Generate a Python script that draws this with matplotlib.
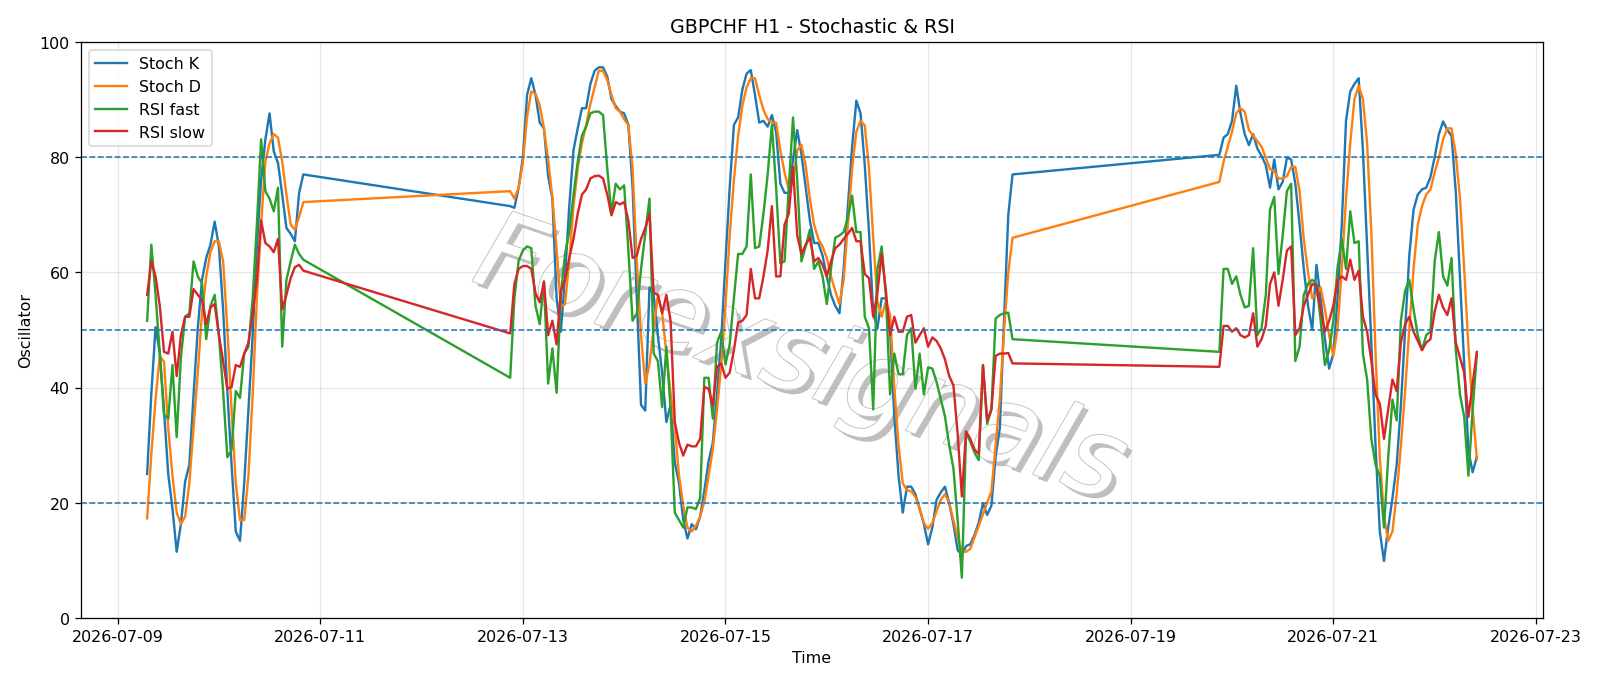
import numpy as np
import pandas as pd
import matplotlib
matplotlib.use("Agg")
import matplotlib.pyplot as plt
import matplotlib.dates as mdates
import matplotlib.patheffects as pe

# hourly bars, market closed over the weekends
seg1 = pd.date_range("2026-07-09 07:00", "2026-07-10 20:00", freq="h")
seg2 = pd.date_range("2026-07-12 21:00", "2026-07-17 20:00", freq="h")
seg3 = pd.date_range("2026-07-19 21:00", "2026-07-22 10:00", freq="h")
times = seg1.append(seg2).append(seg3)

stoch_k = [
    25.0, 39, 50.5, 46, 36, 25, 19, 11.5, 16.3, 23.7, 26.6, 38.8, 50.3, 58.7, 62.5, 64.8, 68.8, 64.5, 53.5,
    39.4, 26.6, 15.0, 13.4, 23.4, 36.2, 49, 64.5, 76, 83, 87.6, 81, 79, 73.5, 67.7, 66.7, 65.4, 73.8, 77,
    # week 2
    71.5, 71.2, 74.7, 79.9, 90.8, 93.7, 90.8, 86, 85, 76.7, 72.8, 55.5, 49.7, 59.3, 71.5, 81.2, 85, 88.5,
    88.5, 92.7, 95, 95.6, 95.6, 94, 90.1, 88.9, 87.9, 87.6, 85.6, 74.7, 55.5, 37, 36, 57.4, 56, 49, 42.6,
    34, 37, 27,
    23.4, 17, 13.8, 16.3, 15.4, 17.6, 22.1, 27.2, 30.4, 38.8, 48.4, 61.9, 74.7, 85.6, 86.9, 91.7, 94.5,
    95.1, 90.8, 86, 86.3, 85.3, 87.3, 84.4, 75.4, 73.8, 73.8, 79.6, 84.7, 80.5, 74.7, 69, 65.1, 65.1, 62.9,
    59.3, 56.1, 54.2, 52.9,
    60.6, 71.5, 81.8, 89.8, 87.6, 78.6, 67, 52.9, 50.3, 55.5, 55.5, 49.7, 35, 24.7, 18.3, 22.8, 22.8, 21.5,
    18.9, 16.3, 12.8, 15.7, 20.5, 21.8, 22.8, 19.9, 16.3, 11.8, 10.9, 12.5, 12.8, 14.4, 16.6, 19.9, 17.9,
    19.5, 28, 33, 52, 70, 77,
    # week 3
    80.4, 83.4, 84, 86.3, 92.4, 87.6, 84, 82.1, 84, 81.5, 80.2, 78.6, 74.7, 79.6, 74.4, 75.7, 79.9, 79.6,
    75.4, 68.3, 60.6, 54.2, 50, 61.3, 55.5, 48.4, 43.3, 45.9, 55.5, 68.3, 86.3, 91.4,
    92.7, 93.7, 81.2, 64.5, 47.8, 29.8, 15, 9.9, 15.7, 20.8, 26.6, 36.9, 50, 63, 70.9, 73.5, 74.4, 74.7,
    76.5, 80, 84, 86.2, 84.7, 83.7, 74, 59, 44, 29, 25.3, 28,
]

stoch_d = [
    17.3, 28.5, 38, 45.5, 44.5, 33, 24.7, 18.3, 16.3, 17.6, 23.4, 33, 42.6, 53, 59.3, 63.5, 65.4, 65.4,
    61.9, 50.3, 36.2, 23.4, 17, 17, 24.7, 38.8, 55.5, 68.3, 79.2, 82.4, 84, 83.4, 79.2, 73.5, 68.3, 67.4,
    69.6, 72.2,
    74.1, 72.8, 74.7, 79, 87, 91.4, 91, 89, 85, 79.5, 73, 64, 54, 54.5, 62, 71.5, 78, 82.4, 85.6, 89.2,
    92.1, 95, 95, 93.4, 90.8, 88.5, 87.9, 86.6, 85.5, 78, 62, 49, 40.7, 44, 50.3, 56.1, 53, 46, 39, 33,
    24.7, 19.5, 15.7, 15, 16, 17.6, 20.2, 24.7, 29.2, 36.2, 43.9, 54.2, 66.4, 76, 83.7, 88.9, 92.1, 93.7,
    93.7, 90.8, 88.2, 86.6, 86, 86, 81.2, 77.3, 74.4, 75.7, 81.2, 82.1, 78.6, 72.8, 68.3, 65.8, 64.5, 62.5,
    59.3, 56.8, 54.5,
    58.7, 68.3, 78, 84.4, 86.3, 85.5, 78, 66, 55, 52.3, 55, 52.6, 40, 30, 23.4, 22.2, 22, 21, 19, 16.5,
    15.5, 16.5, 18.5, 20.5, 21.5, 20, 17, 14, 11.5, 11.5, 12, 14, 16, 18, 20, 22, 30, 38, 50, 60, 66,
    75.7, 79.2, 81.8, 84.4, 87.6, 88.5, 87.9, 84.7, 83.7, 82.8, 81.8, 79.9, 77.9, 77.6, 76.3, 76.3, 76.7,
    78.3, 78.3, 74.1, 65.8, 60, 55.5, 56.1, 57.4, 53.6, 49.1, 45.5, 50.3, 60.6, 72.8, 82.4,
    90.1, 92.4, 90.1, 82.4, 67, 45.9, 27.9, 17.6, 13.4, 15, 21.5, 29.8, 39.4, 50.3, 60.6, 68.3, 71.5, 73.5,
    74.4, 77.3, 79.9, 83.1, 85, 85, 80.5, 72.8, 60.6, 47.1, 36.2, 27.6,
]

rsi_fast = [
    51.6, 64.8, 56.1, 45.9, 35.3, 34.6, 43.9, 31.4, 45.2, 52.3, 52.9, 61.9, 59.3, 58.1, 48.4, 54.2, 56.1,
    49.1, 39.4, 27.9, 29.2, 39.4, 38.2, 45.9, 47.1, 55.5, 68.3, 83.1, 74.1, 72.8, 70.6, 74.7, 47.1, 58.7,
    61.9, 64.8, 63.2, 62.2,
    41.7, 55.5, 62, 63.8, 64.5, 64.2, 54.2, 51, 58.4, 40.7, 46.8, 39.1, 56.1, 63.2, 67, 73.5, 79.2, 83.7,
    85.3, 87.6, 87.9, 87.9, 87.3, 78, 70.2, 75.4, 74.4, 75.1, 63.8, 51.6, 52.9, 60.6, 66.7, 72.8, 45.9,
    44.6, 36.6, 47.1, 36.2, 18.3,
    17, 15.7, 19.2, 19.2, 18.9, 20.8, 41.7, 41.7, 34.6, 47.8, 49.7, 44, 47.5, 55.5, 63.2, 63.2, 64.5, 77,
    64.2, 64.5, 70.2, 77, 85.6, 74.7, 61.6, 61.9, 74.7, 86.9, 76, 61.9, 64.5, 67.4, 60.6, 61.9, 59.3, 54.5,
    60.6, 66, 66.4,
    67, 69.5, 73.3, 67, 67, 52.3, 50.3, 36.2, 60.6, 64.5, 56.1, 38.8, 45.9, 42.3, 42.3, 49.1, 50.3, 39.8,
    45.9, 38.8, 43.5, 43.3, 41, 38, 35, 30, 26, 17, 7, 32.2, 30.6, 28.7, 27.4, 43.9, 33.7, 36.2, 52, 52.6,
    52.9, 53, 48.4,
    46.2, 60.6, 60.6, 58, 59.3, 56.1, 53.9, 54.2, 64.2, 49.1, 50.3, 56.1, 70.9, 73.1, 59.7, 66.4, 74.1,
    75.4, 44.6, 47.1, 56.1, 58, 58.7, 58, 51.6, 43.9, 46.5, 51.6, 60.9, 65.8, 60.6, 70.6,
    65.1, 65.4, 45.9, 41.4, 31.1, 26.6, 24.7, 15.7, 27.9, 37.9, 34.3, 51.6, 56.8, 58.7, 53.6, 49.1, 46.5,
    49.1, 49.7, 61.9, 67, 59.3, 57.7, 62.5, 46.5, 38.8, 34.9, 24.7, 36.2, 45.9,
]

rsi_slow = [
    56.1, 61.9, 59.3, 54.2, 46.2, 45.9, 49.7, 42, 49.1, 52.3, 52.3, 57.1, 56.1, 55.2, 51, 53.9, 54.5, 49.1,
    44.6, 39.8, 40.1, 43.9, 43.6, 45.9, 47.8, 52.9, 58.7, 69, 65.1, 64.5, 63.5, 65.8, 53.6, 56.1, 59, 60.9,
    61.3, 60.3,
    49.4, 58, 60.6, 61.1, 61.1, 60.6, 56.4, 54.8, 58.4, 49.1, 51.6, 47.5, 56.8, 58.7, 62.5, 65.8, 70.2,
    73.5, 74.4, 76.3, 76.7, 76.8, 76.3, 73.5, 69.9, 72.2, 71.8, 72.2, 69, 62.5, 62.9, 65.8, 67.7, 70.2,
    56.4, 56.1, 52.9, 56.1, 51.6, 34,
    30.4, 28.2, 30.1, 29.8, 29.8, 31.1, 40.1, 39.8, 36.9, 43.6, 44.2, 41.7, 42.6, 46.5, 51.3, 51.6, 52.6,
    60.6, 55.5, 55.5, 59.3, 63.8, 71.5, 59.3, 59.3, 68.3, 70.2, 78.3, 66.4, 63.2, 64.8, 66, 61.9, 62.5,
    61.3, 59.3, 61.9, 64.2, 64.8,
    65.8, 66.7, 67.7, 65.4, 65.4, 59.7, 59, 52.3, 56.5, 63.2, 56.8, 49.1, 52.3, 49.7, 49.7, 52.3, 52.6,
    47.8, 49.1, 50.3, 47.1, 48.7, 48.1, 46.8, 44.9, 42, 40.4, 32, 21.1, 32.4, 31.1, 29.2, 28.5, 43.9, 34.3,
    36.2, 45.5, 45.9, 45.9, 46, 44.2,
    43.6, 50.7, 50.7, 49.7, 50.3, 49.1, 48.7, 49.1, 52.9, 47.1, 48.4, 50.7, 58, 60, 54.2, 58.7, 63.8, 64.5,
    49.1, 50.3, 54.2, 56.1, 58, 57.7, 53.6, 49.7, 51.6, 54.2, 58.7, 59.3, 58.7, 62.2,
    58.7, 60.3, 52.3, 49.7, 44.6, 38.8, 37.2, 31.1, 36.2, 41.4, 39.4, 47.8, 51, 52.3, 49.7, 48.1, 46.5,
    47.8, 48.4, 53.2, 56.1, 53.9, 52.6, 55.5, 47.8, 45.2, 42.6, 34.9, 40.7, 46.2,
]

levels = [20, 50, 80]

fig = plt.figure(figsize=(14, 6), dpi=1600 / 14)
ax = fig.add_subplot(111)
fig.subplots_adjust(left=0.0504, right=0.9646, bottom=0.0977, top=0.9378)

ax.plot(times, stoch_k, label="Stoch K")
ax.plot(times, stoch_d, label="Stoch D")
ax.plot(times, rsi_fast, label="RSI fast")
ax.plot(times, rsi_slow, label="RSI slow")

for lv in levels:
    ax.axhline(lv, color="tab:blue", linestyle="--", linewidth=1)

ax.set_ylim(0, 100)
ax.xaxis.set_major_locator(mdates.DayLocator(bymonthday=range(1, 32, 2)))
ax.xaxis.set_major_formatter(mdates.DateFormatter("%Y-%m-%d"))
ax.grid(True, alpha=0.3)

ax.set_title("GBPCHF H1 - Stochastic & RSI")
ax.set_xlabel("Time")
ax.set_ylabel("Oscillator")
ax.legend(loc="upper left")

# watermark: near-white letters with a soft grey drop shadow
ax.text(0.492, 0.445, "Forexsignals", transform=ax.transAxes, fontsize=68,
        style="italic", rotation=-19, color="white", ha="center", va="center",
        zorder=0.5,
        path_effects=[pe.SimplePatchShadow(offset=(3, -3), shadow_rgbFace="#8c8c8c", alpha=0.55),
                      pe.Stroke(linewidth=1.2, foreground="#c4c4c4"),
                      pe.Normal()])

fig.savefig("out.png", dpi=1600 / 14)
